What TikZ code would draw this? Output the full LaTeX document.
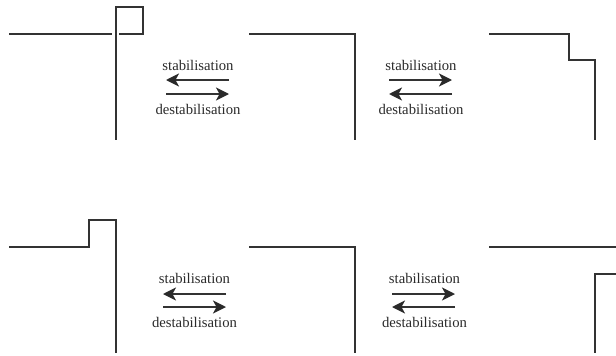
\documentclass[tikz,border=0pt]{standalone}
\usepackage{fontspec}
\setmainfont{Liberation Serif}
\usetikzlibrary{arrows.meta}
\definecolor{ink}{HTML}{333333}
\definecolor{labelink}{HTML}{2A2A2A}
\tikzset{
  bondline/.style={draw=ink,line width=1.6pt,line join=miter},
  eqarrow/.style={draw=ink,line width=1.6pt,-{Stealth[length=13pt,width=13pt,inset=3.5pt,color=labelink]}},
  eqlabel/.style={inner sep=0pt,text=labelink,font=\fontsize{14.7}{16}\selectfont,anchor=base}
}
\begin{document}
\begin{tikzpicture}[x=1pt,y=-1pt]
\useasboundingbox (0,0) rectangle (616,356);
% row 1, left
\coordinate (a1) at (9,34); \coordinate (a2) at (112,34);
\coordinate (a3) at (119,34); \coordinate (a4) at (143,34);
\coordinate (a5) at (143,7); \coordinate (a6) at (116,7); \coordinate (a7) at (116,140);
\draw[bondline] (a1) -- (a2);
\draw[bondline] (a3) -- (a4) -- (a5) -- (a6) -- (a7);
% row 1, middle
\coordinate (b1) at (249,34); \coordinate (b2) at (355,34); \coordinate (b3) at (355,140);
\draw[bondline] (b1) -- (b2) -- (b3);
% row 1, right
\coordinate (c1) at (489,34); \coordinate (c2) at (569,34); \coordinate (c3) at (569,60);
\coordinate (c4) at (595,60); \coordinate (c5) at (595,140);
\draw[bondline] (c1) -- (c2) -- (c3) -- (c4) -- (c5);
% row 2, left
\coordinate (d1) at (9,247); \coordinate (d2) at (89,247); \coordinate (d3) at (89,220);
\coordinate (d4) at (116,220); \coordinate (d5) at (116,353);
\draw[bondline] (d1) -- (d2) -- (d3) -- (d4) -- (d5);
% row 2, middle
\coordinate (e1) at (249,247); \coordinate (e2) at (355,247); \coordinate (e3) at (355,353);
\draw[bondline] (e1) -- (e2) -- (e3);
% row 2, right
\coordinate (f1) at (489,247); \coordinate (f2) at (616,247);
\coordinate (f3) at (616,274); \coordinate (f4) at (595,274); \coordinate (f5) at (595,353);
\draw[bondline] (f1) -- (f2);
\draw[bondline] (f3) -- (f4) -- (f5);
% equilibria
\node[eqlabel] (s1) at (198,70) {stabilisation};
\node[eqlabel] (t1) at (198,114) {destabilisation};
\coordinate (p1l) at (166,80); \coordinate (p1r) at (229,80);
\coordinate (q1l) at (166,94); \coordinate (q1r) at (229,94);
\draw[eqarrow] (p1r) -- (p1l);
\draw[eqarrow] (q1l) -- (q1r);
\node[eqlabel] (s2) at (421,70) {stabilisation};
\node[eqlabel] (t2) at (421,114) {destabilisation};
\coordinate (p2l) at (389,80); \coordinate (p2r) at (452,80);
\coordinate (q2l) at (389,94); \coordinate (q2r) at (452,94);
\draw[eqarrow] (p2l) -- (p2r);
\draw[eqarrow] (q2r) -- (q2l);
\node[eqlabel] (s3) at (194.5,283) {stabilisation};
\node[eqlabel] (t3) at (194.5,327) {destabilisation};
\coordinate (p3l) at (163,294); \coordinate (p3r) at (226,294);
\coordinate (q3l) at (163,307); \coordinate (q3r) at (226,307);
\draw[eqarrow] (p3r) -- (p3l);
\draw[eqarrow] (q3l) -- (q3r);
\node[eqlabel] (s4) at (424.5,283) {stabilisation};
\node[eqlabel] (t4) at (424.5,327) {destabilisation};
\coordinate (p4l) at (392,294); \coordinate (p4r) at (455,294);
\coordinate (q4l) at (392,307); \coordinate (q4r) at (455,307);
\draw[eqarrow] (p4l) -- (p4r);
\draw[eqarrow] (q4r) -- (q4l);
\end{tikzpicture}
\end{document}
